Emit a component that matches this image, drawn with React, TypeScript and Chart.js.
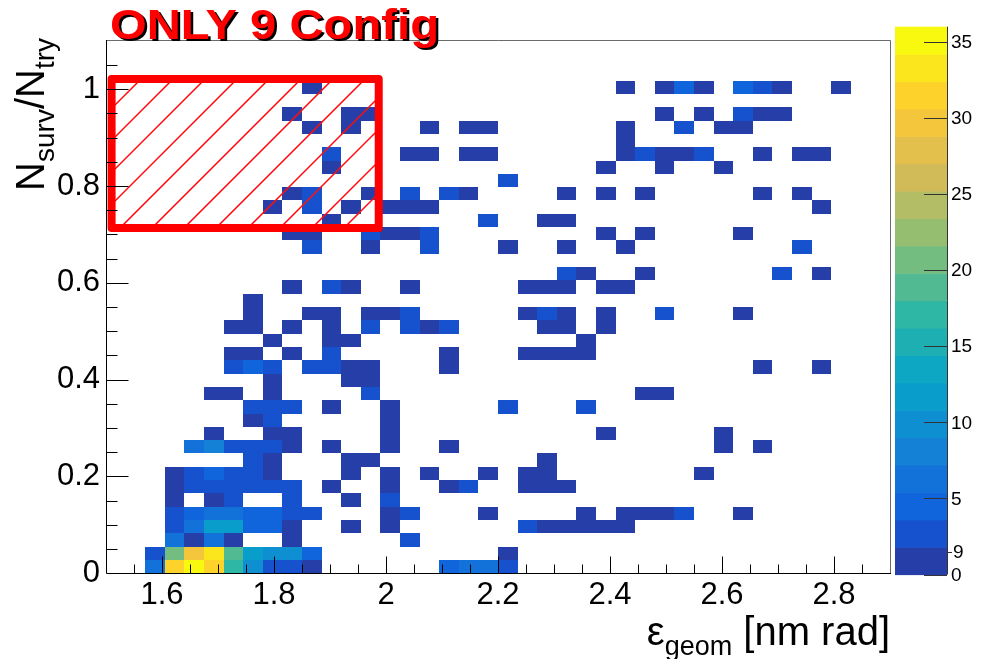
import React, { useEffect, useRef } from 'react';
import { Chart, registerables } from 'chart.js';

Chart.register(...registerables);

const FONT = '"Liberation Sans", Arial, Helvetica, sans-serif';

// ---------------- histogram definition ----------------
const xRange = [1.5, 2.9];
const yRange = [0, 1.1];
const nBinsX = 40;
const nBinsY = 40;
const zRange = [0, 36];
const nContours = 20;

const xTickValues = [1.6, 1.8, 2.0, 2.2, 2.4, 2.6, 2.8];
const yTickValues = [0, 0.2, 0.4, 0.6, 0.8, 1.0];
const zTickValues = [0, 5, 10, 15, 20, 25, 30, 35];
const zOddTickValues = [1.5];
const zOddTickLabels = ['9'];

const titleText = 'ONLY 9 Config';
const xTitleParts = [
  { text: 'ε', sub: false },
  { text: 'geom', sub: true },
  { text: ' [nm rad]', sub: false },
];
const yTitleParts = [
  { text: 'N', sub: false },
  { text: 'surv', sub: true },
  { text: '/N', sub: false },
  { text: 'try', sub: true },
];

// highlighted region (TBox)
const boxX = [1.51, 1.987];
const boxY = [0.713, 1.021];

// cell contents, one list per y-bin (index = y-bin): x-bin indices and counts
const rowBins: number[][] = [
  [2, 3, 4, 5, 6, 7, 8, 9, 10, 17, 18, 19, 20],
  [2, 3, 4, 5, 6, 7, 8, 9, 10, 20],
  [3, 4, 5, 6, 9, 15],
  [3, 4, 5, 6, 7, 8, 9, 12, 14, 21, 22, 23, 24, 25, 26],
  [3, 4, 5, 6, 7, 8, 9, 10, 14, 15, 19, 24, 26, 27, 28, 29, 32],
  [3, 5, 6, 9, 12, 14],
  [3, 4, 5, 6, 7, 8, 9, 11, 14, 17, 18, 21, 22, 23],
  [3, 4, 5, 6, 7, 8, 12, 14, 16, 19, 21, 22, 30],
  [7, 8, 12, 13, 22],
  [4, 5, 6, 7, 8, 9, 11, 14, 17, 31, 33],
  [5, 8, 9, 14, 25, 31],
  [7, 8, 14],
  [7, 8, 9, 11, 14, 20, 24],
  [5, 6, 8, 13, 27, 28],
  [8, 12, 13],
  [6, 7, 8, 10, 11, 12, 13, 17, 33, 36],
  [6, 7, 9, 11, 17, 21, 22, 23, 24],
  [8, 11, 12, 24],
  [6, 7, 9, 11, 13, 15, 16, 17, 22, 23, 25],
  [7, 10, 11, 13, 14, 15, 21, 22, 23, 25, 28, 32],
  [7],
  [9, 11, 12, 15, 21, 22, 23, 25, 26],
  [23, 24, 27, 34, 36],
  [],
  [10, 13, 16, 20, 23, 26, 35],
  [9, 10, 13, 14, 15, 16, 25, 27, 32],
  [11, 19, 22, 23],
  [8, 10, 12, 14, 15, 16, 36],
  [9, 10, 13, 15, 17, 18, 23, 25, 27, 33, 35],
  [20],
  [11, 25, 28, 31],
  [11, 15, 16, 18, 19, 26, 27, 28, 29, 30, 33, 35, 36],
  [26],
  [10, 12, 16, 18, 19, 26, 29, 31, 32],
  [9, 12, 13, 28, 30, 32, 33, 34],
  [],
  [10, 26, 28, 29, 30, 32, 33, 34, 37],
];
const rowCounts: number[][] = [
  [6, 32, 36, 31, 17, 10, 3, 3, 1, 5, 6, 6, 3],
  [3, 21, 30, 34, 19, 12, 10, 10, 5, 1],
  [6, 1, 7, 1, 1, 2],
  [2, 6, 12, 12, 5, 5, 1, 1, 1, 2, 1, 1, 1, 1, 1],
  [2, 4, 6, 6, 5, 5, 3, 3, 1, 2, 1, 1, 1, 1, 1, 2, 1],
  [1, 1, 2, 2, 1, 2],
  [1, 2, 2, 2, 2, 2, 2, 1, 1, 1, 2, 1, 1, 1],
  [1, 2, 4, 2, 2, 1, 1, 1, 1, 1, 1, 1, 1],
  [2, 1, 1, 1, 1],
  [6, 8, 3, 3, 3, 1, 1, 1, 1, 1, 1],
  [1, 1, 1, 1, 1, 1],
  [1, 2, 1],
  [2, 2, 2, 1, 1, 2, 2],
  [1, 1, 1, 2, 1, 1],
  [1, 1, 1],
  [2, 4, 2, 2, 2, 1, 1, 1, 1, 1],
  [1, 1, 1, 2, 1, 1, 1, 1, 1],
  [1, 1, 1, 1],
  [1, 1, 1, 1, 2, 2, 1, 2, 1, 1, 1],
  [1, 1, 1, 1, 1, 2, 1, 2, 1, 1, 2, 1],
  [1],
  [1, 2, 1, 1, 1, 1, 1, 1, 1],
  [2, 1, 1, 2, 1],
  [],
  [2, 1, 2, 1, 1, 1, 2],
  [1, 1, 2, 1, 1, 2, 1, 1, 1],
  [1, 2, 1, 1],
  [1, 2, 1, 1, 1, 1, 1],
  [1, 2, 1, 2, 2, 1, 1, 1, 1, 1, 1],
  [2],
  [1, 1, 1, 1],
  [2, 1, 1, 1, 1, 1, 2, 1, 1, 2, 1, 1, 1],
  [1],
  [1, 1, 1, 1, 1, 1, 2, 1, 1],
  [1, 1, 1, 1, 1, 2, 1, 1],
  [],
  [1, 1, 1, 4, 1, 4, 2, 1, 1],
];

// ROOT kBird palette
const birdStops = [0.0, 0.125, 0.25, 0.375, 0.5, 0.625, 0.75, 0.875, 1.0];
const birdR = [0.2082, 0.0592, 0.078, 0.0232, 0.1802, 0.5301, 0.8186, 0.9956, 0.9764];
const birdG = [0.1664, 0.3599, 0.5041, 0.6419, 0.7178, 0.7492, 0.7328, 0.7862, 0.9832];
const birdB = [0.5293, 0.8684, 0.8385, 0.7914, 0.6425, 0.4662, 0.3499, 0.1968, 0.0539];

// ---------------- layout (pixels) ----------------
const W = 986;
const H = 659;
const PLOT_LEFT = 106;
const PLOT_RIGHT = 890;
const PLOT_TOP = 40.7;
const PLOT_BOTTOM = 573.3;
const BAR_LEFT = 895;
const BAR_RIGHT = 947;
const BAR_TOP = 26.7;
const BAR_BOTTOM = 574.5;

function buildPalette(n: number): string[] {
  const cols: string[] = [];
  for (let g = 1; g < birdStops.length; g++) {
    const cnt = Math.floor(n * birdStops[g]) - Math.floor(n * birdStops[g - 1]);
    for (let c = 0; c < cnt; c++) {
      const f = c / cnt;
      const r = birdR[g - 1] + (birdR[g] - birdR[g - 1]) * f;
      const gg = birdG[g - 1] + (birdG[g] - birdG[g - 1]) * f;
      const b = birdB[g - 1] + (birdB[g] - birdB[g - 1]) * f;
      cols.push(`rgb(${Math.round(r * 255)},${Math.round(gg * 255)},${Math.round(b * 255)})`);
    }
  }
  return cols;
}
const palette = buildPalette(255);
const contourColor = (k: number) =>
  palette[Math.min(palette.length - 1, Math.floor(((k + 0.99) * palette.length) / nContours))];
const colorForValue = (v: number) => {
  const k = Math.min(nContours - 1, Math.floor(((v - zRange[0]) / (zRange[1] - zRange[0])) * nContours));
  return contourColor(Math.max(0, k));
};

const dxBin = (xRange[1] - xRange[0]) / nBinsX;
const dyBin = (yRange[1] - yRange[0]) / nBinsY;

const cellPoints: { x: number; y: number; v: number; ix: number; iy: number }[] = [];
rowBins.forEach((bins, iy) => {
  bins.forEach((ix, k) => {
    cellPoints.push({
      x: xRange[0] + (ix + 0.5) * dxBin,
      y: yRange[0] + (iy + 0.5) * dyBin,
      v: rowCounts[iy][k],
      ix,
      iy,
    });
  });
});

function drawParts(
  ctx: CanvasRenderingContext2D,
  parts: { text: string; sub: boolean }[],
  size: number,
  subSize: number,
  subDrop: number
) {
  const widths = parts.map((p) => {
    ctx.font = `${p.sub ? subSize : size}px ${FONT}`;
    return ctx.measureText(p.text).width;
  });
  const total = widths.reduce((a, b) => a + b, 0);
  let x = -total;
  parts.forEach((p, i) => {
    ctx.font = `${p.sub ? subSize : size}px ${FONT}`;
    ctx.fillText(p.text, x, p.sub ? subDrop : 0);
    x += widths[i];
  });
}

const rootPlugin = {
  id: 'rootStyle',
  afterDatasetsDraw(chart: any) {
    const { ctx, chartArea: a } = chart;
    const xs = chart.scales.x;
    const ys = chart.scales.y;
    ctx.save();
    // cells
    cellPoints.forEach((c) => {
      const x0 = Math.round(xs.getPixelForValue(xRange[0] + c.ix * dxBin));
      const x1 = Math.round(xs.getPixelForValue(xRange[0] + (c.ix + 1) * dxBin));
      const y0 = Math.round(ys.getPixelForValue(yRange[0] + c.iy * dyBin));
      const y1 = Math.round(ys.getPixelForValue(yRange[0] + (c.iy + 1) * dyBin));
      ctx.fillStyle = colorForValue(c.v);
      ctx.fillRect(x0, y1, x1 - x0, y0 - y1);
    });

    // hatched box
    const bx0 = xs.getPixelForValue(boxX[0]);
    const bx1 = xs.getPixelForValue(boxX[1]);
    const by0 = ys.getPixelForValue(boxY[0]);
    const by1 = ys.getPixelForValue(boxY[1]);
    ctx.save();
    ctx.beginPath();
    ctx.rect(bx0, by1, bx1 - bx0, by0 - by1);
    ctx.clip();
    const spacing = 32;
    let c0 = 220;
    while (c0 > bx0 + by1) c0 -= spacing;
    ctx.beginPath();
    for (let c = c0; c < bx1 + by0 + spacing; c += spacing) {
      ctx.moveTo(c - by0, by0);
      ctx.lineTo(c - by1, by1);
    }
    ctx.lineWidth = 1.5;
    ctx.strokeStyle = '#ff1010';
    ctx.stroke();
    ctx.restore();
    ctx.beginPath();
    ctx.strokeStyle = '#ff0000';
    ctx.lineWidth = 8;
    ctx.lineJoin = 'round';
    ctx.rect(bx0, by1, bx1 - bx0, by0 - by1);
    ctx.stroke();

    // frame
    ctx.lineWidth = 1;
    ctx.strokeStyle = '#6a6a6a';
    ctx.beginPath();
    ctx.moveTo(a.left, Math.floor(a.top) + 0.5);
    ctx.lineTo(Math.floor(a.right) + 0.5, Math.floor(a.top) + 0.5);
    ctx.lineTo(Math.floor(a.right) + 0.5, a.bottom);
    ctx.stroke();
    ctx.strokeStyle = '#000';
    ctx.beginPath();
    ctx.moveTo(Math.floor(a.left) + 0.5, Math.floor(a.top));
    ctx.lineTo(Math.floor(a.left) + 0.5, Math.floor(a.bottom) + 0.5);
    ctx.lineTo(Math.floor(a.right) + 1, Math.floor(a.bottom) + 0.5);
    ctx.stroke();

    // ticks (inside the frame, ROOT style)
    const xb = Math.floor(a.bottom) + 0.5;
    const yl = Math.floor(a.left) + 0.5;
    ctx.beginPath();
    for (let k = 1; k * 0.05 + xRange[0] < xRange[1] - 1e-9; k++) {
      const v = xRange[0] + k * 0.05;
      const isMajor = xTickValues.some((t) => Math.abs(t - v) < 1e-6);
      const px = Math.round(xs.getPixelForValue(v)) + 0.5;
      ctx.moveTo(px, xb);
      ctx.lineTo(px, xb - (isMajor ? 17 : 9));
    }
    for (let k = 1; k * 0.05 + yRange[0] < yRange[1] - 1e-9; k++) {
      const v = yRange[0] + k * 0.05;
      const isMajor = yTickValues.some((t) => Math.abs(t - v) < 1e-6);
      const py = Math.round(ys.getPixelForValue(v)) + 0.5;
      ctx.moveTo(yl, py);
      ctx.lineTo(yl + (isMajor ? 22 : 11), py);
    }
    ctx.stroke();
    ctx.restore();
  },
  afterDraw(chart: any) {
    const { ctx } = chart;
    ctx.save();
    // colour bar
    const zToPix = (z: number) =>
      BAR_BOTTOM - ((z - zRange[0]) / (zRange[1] - zRange[0])) * (BAR_BOTTOM - BAR_TOP);
    const step = (zRange[1] - zRange[0]) / nContours;
    for (let k = 0; k < nContours; k++) {
      const yA = zToPix(zRange[0] + k * step);
      const yB = zToPix(zRange[0] + (k + 1) * step);
      ctx.fillStyle = contourColor(k);
      ctx.fillRect(BAR_LEFT, yB, BAR_RIGHT - BAR_LEFT, yA - yB + 0.6);
    }
    ctx.strokeStyle = '#333';
    ctx.lineWidth = 1;
    ctx.beginPath();
    ctx.moveTo(BAR_RIGHT + 0.5, BAR_TOP);
    ctx.lineTo(BAR_RIGHT + 0.5, BAR_BOTTOM);
    zTickValues.forEach((z) => {
      const py = Math.round(zToPix(z)) + 0.5;
      ctx.moveTo(BAR_RIGHT, py);
      ctx.lineTo(BAR_RIGHT - 23, py);
    });
    zOddTickValues.forEach((z) => {
      const py = Math.round(zToPix(z)) + 0.5;
      ctx.moveTo(BAR_RIGHT, py);
      ctx.lineTo(BAR_RIGHT + 5, py);
    });
    ctx.stroke();
    ctx.fillStyle = '#000';
    ctx.font = `19px ${FONT}`;
    ctx.textAlign = 'left';
    ctx.textBaseline = 'middle';
    zTickValues.forEach((z) => {
      ctx.fillText(String(z), BAR_RIGHT + 4, zToPix(z) + 1);
    });
    zOddTickValues.forEach((z, i) => {
      ctx.fillText(zOddTickLabels[i], BAR_RIGHT + 6, zToPix(z) + 1);
    });

    // title with shadow
    ctx.textBaseline = 'alphabetic';
    ctx.font = `bold 43px ${FONT}`;
    const tw = ctx.measureText(titleText).width;
    const sx = 329 / tw;
    ctx.save();
    ctx.translate(110, 38.5);
    ctx.scale(sx, 1);
    ctx.fillStyle = '#000';
    ctx.fillText(titleText, 2.5 / sx, 2.5);
    ctx.fillStyle = '#ff0000';
    ctx.fillText(titleText, 0, 0);
    ctx.restore();

    // axis titles
    ctx.fillStyle = '#000';
    ctx.textAlign = 'left';
    ctx.save();
    ctx.translate(PLOT_RIGHT, 645);
    drawParts(ctx, xTitleParts, 40, 27, 10);
    ctx.restore();

    ctx.save();
    ctx.translate(44, 38);
    ctx.rotate(-Math.PI / 2);
    drawParts(ctx, yTitleParts, 40, 28, 10);
    ctx.restore();
    ctx.restore();
  },
};

export default function App() {
  const ref = useRef<HTMLCanvasElement | null>(null);
  useEffect(() => {
    const canvas = ref.current;
    if (!canvas) return;
    const chart = new Chart(canvas, {
      type: 'scatter',
      data: {
        datasets: [
          {
            label: 'N_surv/N_try vs emittance',
            data: cellPoints.map((c) => ({ x: c.x, y: c.y })),
            pointRadius: 0,
            pointHoverRadius: 0,
            showLine: false,
          },
        ],
      },
      options: {
        animation: false,
        responsive: false,
        devicePixelRatio: 1,
        events: [],
        layout: { padding: { left: 0, top: PLOT_TOP, right: W - PLOT_RIGHT, bottom: 0 } },
        plugins: {
          legend: { display: false },
          tooltip: { enabled: false },
          title: { display: false },
        },
        scales: {
          x: {
            type: 'linear',
            min: xRange[0],
            max: xRange[1],
            afterFit: (s: any) => {
              s.height = H - PLOT_BOTTOM;
            },
            afterBuildTicks: (s: any) => {
              s.ticks = xTickValues.map((v) => ({ value: v }));
            },
            grid: { display: false, drawTicks: false },
            border: { display: false },
            ticks: {
              autoSkip: false,
              maxRotation: 0,
              padding: 4,
              color: '#000',
              font: { family: FONT, size: 31 },
              callback: (v: any) => String(v),
            },
          },
          y: {
            type: 'linear',
            min: yRange[0],
            max: yRange[1],
            afterFit: (s: any) => {
              s.width = PLOT_LEFT;
            },
            afterBuildTicks: (s: any) => {
              s.ticks = yTickValues.map((v) => ({ value: v }));
            },
            grid: { display: false, drawTicks: false },
            border: { display: false },
            ticks: {
              autoSkip: false,
              padding: 6,
              color: '#000',
              font: { family: FONT, size: 31 },
              callback: (v: any) => String(v),
            },
          },
        },
      },
      plugins: [rootPlugin],
    } as any);
    return () => chart.destroy();
  }, []);
  return (
    <div style={{ position: 'fixed', left: 0, top: 0, width: W, height: H, background: '#fff' }}>
      <canvas ref={ref} width={W} height={H} style={{ display: 'block', width: W, height: H }} />
    </div>
  );
}
